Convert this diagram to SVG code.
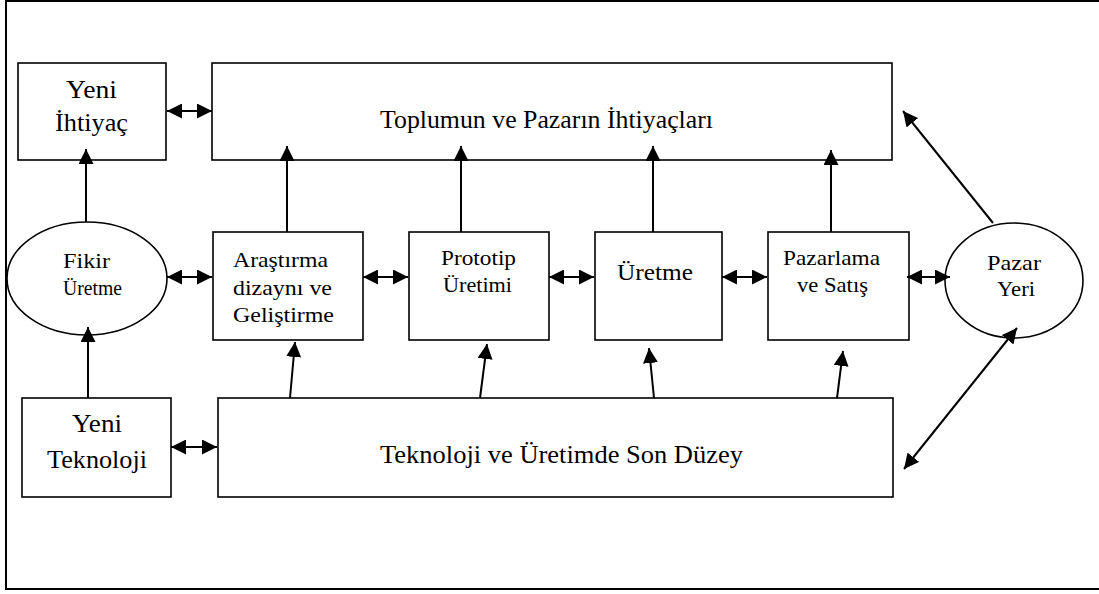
<svg xmlns="http://www.w3.org/2000/svg" width="1099" height="594" viewBox="0 0 1099 594">
<style>
.box{fill:#fff;stroke:#000;stroke-width:1.6}
.frame{fill:none;stroke:#000;stroke-width:2}
text{font-family:'Liberation Serif','Times New Roman',serif;fill:#000}
.big{font-size:25px}
.sm{font-size:21px}
.md{font-size:23px}
.c line{stroke:#000;stroke-width:2}
.one{marker-end:url(#ah)}
.two{marker-start:url(#ah);marker-end:url(#ah)}
</style>
<defs>
<marker id="ah" markerWidth="16" markerHeight="15" refX="15" refY="7.5" orient="auto-start-reverse" markerUnits="userSpaceOnUse">
<path d="M0,0 L15,7.5 L0,15 z" fill="#000"/>
</marker>
</defs>
<rect width="1099" height="594" fill="#fff"/>
<path class="frame" d="M1105,1 H6 V589 H1105"/>

<g id="yeni-ihtiyac">
<rect class="box" x="18" y="63" width="148" height="97"/>
<text class="big" x="66" y="98" textLength="51" lengthAdjust="spacingAndGlyphs">Yeni</text>
<text class="big" x="55" y="131" textLength="73" lengthAdjust="spacingAndGlyphs">İhtiyaç</text>
</g>
<g id="toplum">
<rect class="box" x="212" y="63" width="680" height="97"/>
<text class="big" x="380" y="128" textLength="333" lengthAdjust="spacingAndGlyphs">Toplumun ve Pazarın İhtiyaçları</text>
</g>
<g id="fikir">
<ellipse class="box" cx="87" cy="278.5" rx="80" ry="56.5"/>
<text class="sm" x="63" y="268" textLength="47" lengthAdjust="spacingAndGlyphs">Fikir</text>
<text class="sm" x="63" y="295" textLength="59" lengthAdjust="spacingAndGlyphs">Üretme</text>
</g>
<g id="arastirma">
<rect class="box" x="213" y="232" width="150" height="108"/>
<text class="sm" x="233" y="267" textLength="95" lengthAdjust="spacingAndGlyphs">Araştırma</text>
<text class="sm" x="233" y="295" textLength="99" lengthAdjust="spacingAndGlyphs">dizaynı ve</text>
<text class="sm" x="233" y="322" textLength="101" lengthAdjust="spacingAndGlyphs">Geliştirme</text>
</g>
<g id="prototip">
<rect class="box" x="409" y="232" width="140" height="108"/>
<text class="sm" x="441" y="265" textLength="75" lengthAdjust="spacingAndGlyphs">Prototip</text>
<text class="sm" x="443" y="292" textLength="69" lengthAdjust="spacingAndGlyphs">Üretimi</text>
</g>
<g id="uretme">
<rect class="box" x="595" y="232" width="127" height="108"/>
<text class="md" x="617" y="280" textLength="76" lengthAdjust="spacingAndGlyphs">Üretme</text>
</g>
<g id="pazarlama">
<rect class="box" x="768" y="232" width="141" height="108"/>
<text class="sm" x="783" y="265" textLength="97" lengthAdjust="spacingAndGlyphs">Pazarlama</text>
<text class="sm" x="797" y="292" textLength="71" lengthAdjust="spacingAndGlyphs">ve Satış</text>
</g>
<g id="pazar-yeri">
<ellipse class="box" cx="1014" cy="280.5" rx="69" ry="57.5"/>
<text class="sm" x="987" y="270" textLength="54" lengthAdjust="spacingAndGlyphs">Pazar</text>
<text class="sm" x="997" y="296" textLength="38" lengthAdjust="spacingAndGlyphs">Yeri</text>
</g>
<g id="yeni-teknoloji">
<rect class="box" x="22" y="398" width="149" height="99"/>
<text class="big" x="72" y="432" textLength="50" lengthAdjust="spacingAndGlyphs">Yeni</text>
<text class="big" x="47" y="468" textLength="100" lengthAdjust="spacingAndGlyphs">Teknoloji</text>
</g>
<g id="teknoloji">
<rect class="box" x="218" y="398" width="675" height="99"/>
<text class="big" x="380" y="463" textLength="363" lengthAdjust="spacingAndGlyphs">Teknoloji ve Üretimde Son Düzey</text>
</g>

<g id="connectors" class="c">
<line class="one" x1="86" y1="222" x2="86" y2="149"/>
<line class="one" x1="287" y1="232" x2="287" y2="146"/>
<line class="one" x1="461" y1="232" x2="461" y2="146"/>
<line class="one" x1="653" y1="232" x2="653" y2="146"/>
<line class="one" x1="831" y1="232" x2="831" y2="150"/>
<line class="one" x1="993" y1="223" x2="903" y2="111"/>
<line class="one" x1="88" y1="398" x2="88" y2="327"/>
<line class="one" x1="290" y1="398" x2="295" y2="342"/>
<line class="one" x1="480" y1="398" x2="487" y2="344"/>
<line class="one" x1="654" y1="398" x2="649" y2="348"/>
<line class="one" x1="837" y1="398" x2="843" y2="351"/>
<line class="two" x1="167" y1="111" x2="212" y2="111"/>
<line class="two" x1="167" y1="277" x2="212" y2="277"/>
<line class="two" x1="363" y1="277" x2="408" y2="277"/>
<line class="two" x1="549" y1="277" x2="594" y2="277"/>
<line class="two" x1="722" y1="277" x2="767" y2="277"/>
<line class="two" x1="907" y1="277" x2="950" y2="277"/>
<line class="two" x1="171" y1="447" x2="217" y2="447"/>
<line class="two" x1="1017" y1="328" x2="904" y2="469"/>
</g>
</svg>
